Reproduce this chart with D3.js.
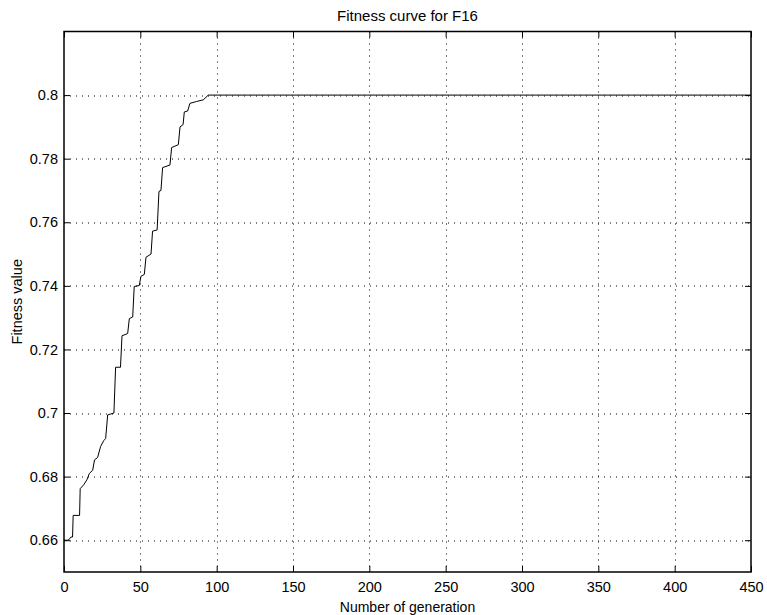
<!DOCTYPE html>
<html>
<head>
<meta charset="utf-8">
<script src="https://cdn.jsdelivr.net/npm/d3@7"></script>
<style>
  body { margin: 0; background: #fff; }
  text { font-family: "Liberation Sans", Arial, sans-serif; fill: #000; }
</style>
</head>
<body>
<div id="chart"></div>
<script>
var generations = [0, 2.8, 4.6, 5.6, 6, 10.2, 10.6, 13, 15, 16.6, 18.8, 20, 22, 24, 26,
  27.3, 28.6, 32.7, 33.8, 37, 38, 41.7, 42.8, 45, 46, 49.3, 50.4, 52.6, 53.7, 57,
  58, 61, 62.2, 63.5, 64.6, 69.4, 70.5, 74.9, 76, 78, 78.8, 81, 82.5, 86.9, 91.2,
  93, 94.5, 450];
var fitness = [0.66, 0.66, 0.661, 0.661, 0.6678, 0.6678, 0.6762, 0.6775, 0.679, 0.681,
  0.682, 0.6853, 0.686, 0.6895, 0.6913, 0.692, 0.6994, 0.700, 0.7144, 0.7144,
  0.7243, 0.725, 0.7297, 0.7302, 0.7398, 0.7401, 0.743, 0.7436, 0.749, 0.750,
  0.7572, 0.7576, 0.7697, 0.770, 0.7772, 0.778, 0.7835, 0.7844, 0.79, 0.7907,
  0.7947, 0.795, 0.7974, 0.798, 0.7985, 0.7993, 0.80, 0.80];
var xTicks = [0, 50, 100, 150, 200, 250, 300, 350, 400, 450];
var yTicks = [0.66, 0.68, 0.70, 0.72, 0.74, 0.76, 0.78, 0.80];

var svgWidth = 767;
var svgHeight = 615;
var margin = {top: 31.5, right: 16, bottom: 43, left: 64};
var width = svgWidth - margin.left - margin.right;
var height = svgHeight - margin.top - margin.bottom;

var svg = d3.select("#chart").append("svg")
    .attr("width", svgWidth)
    .attr("height", svgHeight);

var g = svg.append("g")
    .attr("transform", "translate(" + margin.left + "," + margin.top + ")");

var xScale = d3.scaleLinear().domain([0, 450]).range([0, width]);
var yScale = d3.scaleLinear().domain([0.65, 0.82]).range([height, 0]);

// dotted grid
g.selectAll(".vgrid")
    .data(xTicks.slice(1, -1))
    .enter().append("line")
    .attr("x1", function(d) { return Math.round(xScale(d)) + 0.5; })
    .attr("x2", function(d) { return Math.round(xScale(d)) + 0.5; })
    .attr("y1", 0).attr("y2", height)
    .attr("stroke", "#000").attr("stroke-width", 1)
    .attr("stroke-dasharray", "1,5");

g.selectAll(".hgrid")
    .data(yTicks)
    .enter().append("line")
    .attr("y1", function(d) { return Math.round(yScale(d)) + 0.5; })
    .attr("y2", function(d) { return Math.round(yScale(d)) + 0.5; })
    .attr("x1", 0).attr("x2", width)
    .attr("stroke", "#000").attr("stroke-width", 1)
    .attr("stroke-dasharray", "1,5");

// axes with inward ticks (MATLAB style)
var fmtY = function(d) { return d3.format(".2f")(d).replace(/0$/, ""); };

var axBottom = g.append("g")
    .attr("transform", "translate(0," + height + ")")
    .call(d3.axisBottom(xScale).tickValues(xTicks).tickSizeInner(-6).tickSizeOuter(0).tickPadding(10));
var axTop = g.append("g")
    .call(d3.axisTop(xScale).tickValues(xTicks).tickSizeInner(-6).tickSizeOuter(0).tickFormat(""));
var axLeft = g.append("g")
    .call(d3.axisLeft(yScale).tickValues(yTicks).tickSizeInner(-6).tickSizeOuter(0).tickPadding(6).tickFormat(fmtY));
var axRight = g.append("g")
    .attr("transform", "translate(" + width + ",0)")
    .call(d3.axisRight(yScale).tickValues(yTicks).tickSizeInner(-6).tickSizeOuter(0).tickFormat(""));

[axBottom, axTop, axLeft, axRight].forEach(function(ax) {
    ax.select(".domain").remove();
    ax.selectAll("line").attr("stroke", "#000");
    ax.selectAll("text").style("font-size", "14.5px").style("font-family", "Liberation Sans, Arial, sans-serif");
});

// frame
g.append("rect")
    .attr("x", 0).attr("y", 0)
    .attr("width", width).attr("height", height)
    .attr("fill", "none").attr("stroke", "#000").attr("stroke-width", 1.5);

// the curve
var points = generations.map(function(d, i) { return {gen: d, val: fitness[i]}; });
var line = d3.line()
    .x(function(d) { return xScale(d.gen); })
    .y(function(d) { return yScale(d.val); });

g.append("path")
    .datum(points)
    .attr("d", line)
    .attr("fill", "none")
    .attr("stroke", "#000")
    .attr("stroke-width", 1);

// labels
svg.append("text")
    .attr("x", margin.left + width / 2).attr("y", 20.5)
    .attr("text-anchor", "middle")
    .style("font-size", "15px")
    .text("Fitness curve for F16");

svg.append("text")
    .attr("x", margin.left + width / 2).attr("y", 612)
    .attr("text-anchor", "middle")
    .style("font-size", "14px")
    .text("Number of generation");

svg.append("text")
    .attr("transform", "translate(22," + (margin.top + height / 2) + ")rotate(-90)")
    .attr("text-anchor", "middle")
    .style("font-size", "14.5px")
    .text("Fitness value");
</script>
</body>
</html>
